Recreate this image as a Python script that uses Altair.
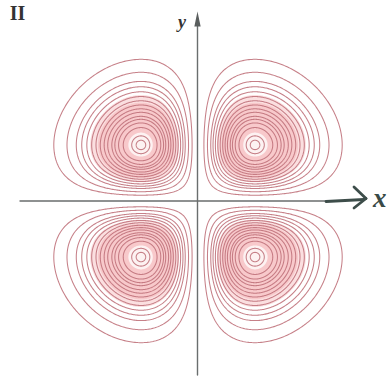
import numpy as np
import pandas as pd
import altair as alt

# ---- chart data -----------------------------------------------------------
# Contour levels of |psi| (normalised to 1 at the lobe maxima), outermost first
LEVELS = [0.17, 0.27, 0.36, 0.42, 0.48, 0.54, 0.595, 0.65, 0.70, 0.745,
          0.795, 0.83, 0.87, 0.915, 0.975, 0.993]
# Lobe quadrants (sign of x, sign of y)
LOBES = [(1, 1), (-1, 1), (-1, -1), (1, -1)]
# Shaded core of each lobe and the pale spot at its maximum
SHADE_LEVELS = [0.52, 0.62]
CORE_LEVEL = 0.955

# ---- geometry helpers ----------------------------------------------------
W, H = 387, 379
X0, Y0 = 198.0, 201.0          # origin of the x/y axes on the canvas
SX, SY = 57.0, 56.0            # pixels per unit
XDOM = [(0 - X0) / SX, (W - X0) / SX]
YDOM = [(Y0 - H) / SY, (Y0 - 0) / SY]


def ux(px):
    return (px - X0) / SX


def uy(py):
    return (Y0 - py) / SY


def psi(x, y):
    """d_xy-type orbital in the xy plane, normalised to 1 at the maxima."""
    return np.abs(x * y) * np.exp(-(x ** 2 + y ** 2) / 2.0) * np.e


def level_curve(sx, sy, level, n=360):
    """Closed contour psi = level around the maximum at (sx, sy)."""
    th = np.linspace(0, 2 * np.pi, n, endpoint=False)
    r = np.linspace(0, 4.5, 2251)
    cx, cy = float(sx), float(sy)
    X = cx + np.outer(np.cos(th), r)
    Y = cy + np.outer(np.sin(th), r)
    V = psi(X, Y)
    # keep inside the lobe's own quadrant
    V = np.where((X * sx > 0) & (Y * sy > 0), V, 0.0)
    below = V < level
    idx = np.argmax(below, axis=1)
    i1 = np.clip(idx, 1, len(r) - 1)
    v0 = V[np.arange(n), i1 - 1]
    v1 = V[np.arange(n), i1]
    t = np.clip((v0 - level) / np.where(v0 - v1 == 0, 1, v0 - v1), 0, 1)
    rr = r[i1 - 1] + t * (r[i1] - r[i1 - 1])
    xs = cx + rr * np.cos(th)
    ys = cy + rr * np.sin(th)
    xs = np.append(xs, xs[0])
    ys = np.append(ys, ys[0])
    return xs, ys


def curves(levels):
    rows = []
    for li, (sx, sy) in enumerate(LOBES):
        for lv in levels:
            xs, ys = level_curve(sx, sy, lv)
            key = f"{li}-{lv}"
            for i, (a, b) in enumerate(zip(xs, ys)):
                rows.append({"key": key, "i": i, "x": a, "y": b})
    return pd.DataFrame(rows)


contours = curves(LEVELS)
shade = curves(SHADE_LEVELS)
core = curves([CORE_LEVEL])

xs = alt.Scale(domain=XDOM, nice=False, zero=False)
ys = alt.Scale(domain=YDOM, nice=False, zero=False)


def enc(chart):
    return chart.encode(
        x=alt.X("x:Q", scale=xs, axis=None),
        y=alt.Y("y:Q", scale=ys, axis=None),
    )


shade_layer = enc(alt.Chart(shade).mark_line(
    fill="#f39a9e", fillOpacity=0.32, strokeWidth=0, interpolate="linear"
)).encode(detail="key:N", order="i:Q")

core_layer = enc(alt.Chart(core).mark_line(
    fill="#ffffff", fillOpacity=0.75, strokeWidth=0
)).encode(detail="key:N", order="i:Q")

line_layer = enc(alt.Chart(contours).mark_line(
    color="#c0727b", strokeWidth=1.05, opacity=0.9
)).encode(detail="key:N", order="i:Q")

# ---- axes drawn as segments -----------------------------------------------
axis_thin = pd.DataFrame([
    {"x": ux(20), "y": uy(201), "x2": ux(332), "y2": uy(201)},
    {"x": ux(197.5), "y": uy(375), "x2": ux(197.5), "y2": uy(22)},
])
axis_hand = pd.DataFrame([
    {"x": ux(326), "y": uy(201.5), "x2": ux(364), "y2": uy(199.5)},
    {"x": ux(354), "y": uy(187), "x2": ux(366), "y2": uy(198.5)},
    {"x": ux(366), "y": uy(198.5), "x2": ux(354), "y2": uy(208)},
])


def rule(df, color, width):
    return alt.Chart(df).mark_rule(color=color, strokeWidth=width, strokeCap="round").encode(
        x=alt.X("x:Q", scale=xs, axis=None),
        y=alt.Y("y:Q", scale=ys, axis=None),
        x2="x2:Q",
        y2="y2:Q",
    )


thin = rule(axis_thin, "#6a6e6e", 1.4)
hand = rule(axis_hand, "#3d4d4a", 2.8)

y_head = enc(alt.Chart(pd.DataFrame([{"x": ux(197.5), "y": uy(19)}])).mark_point(
    shape="M0,-1L0.42,1L-0.42,1Z", size=225, filled=True, color="#5a5e5e", opacity=1
))

labels = pd.DataFrame([
    {"x": ux(17.5), "y": uy(19.5), "t": "II"},
])
roman = enc(alt.Chart(labels).mark_text(
    font="Liberation Serif", fontSize=20, fontWeight="bold", color="#333333",
    align="center", baseline="alphabetic"
)).encode(text="t:N")

ylab = enc(alt.Chart(pd.DataFrame([{"x": ux(182), "y": uy(27.5), "t": "y"}])).mark_text(
    font="Liberation Serif", fontSize=18, fontStyle="italic", fontWeight="bold",
    color="#333333", align="center", baseline="alphabetic"
)).encode(text="t:N")

xlab = enc(alt.Chart(pd.DataFrame([{"x": ux(373), "y": uy(207), "t": "x"}])).mark_text(
    font="Liberation Serif", fontSize=27, fontStyle="italic", fontWeight="bold",
    color="#3a4a47", align="left", baseline="alphabetic"
)).encode(text="t:N")

chart = alt.layer(
    shade_layer, core_layer, line_layer, thin, hand, y_head, roman, ylab, xlab
).properties(
    width=W, height=H, padding=0, autosize=alt.AutoSizeParams(type="none"),
    background="white"
).configure_view(stroke=None)

chart.save("out.html", embed_options={"renderer": "svg", "actions": False})
